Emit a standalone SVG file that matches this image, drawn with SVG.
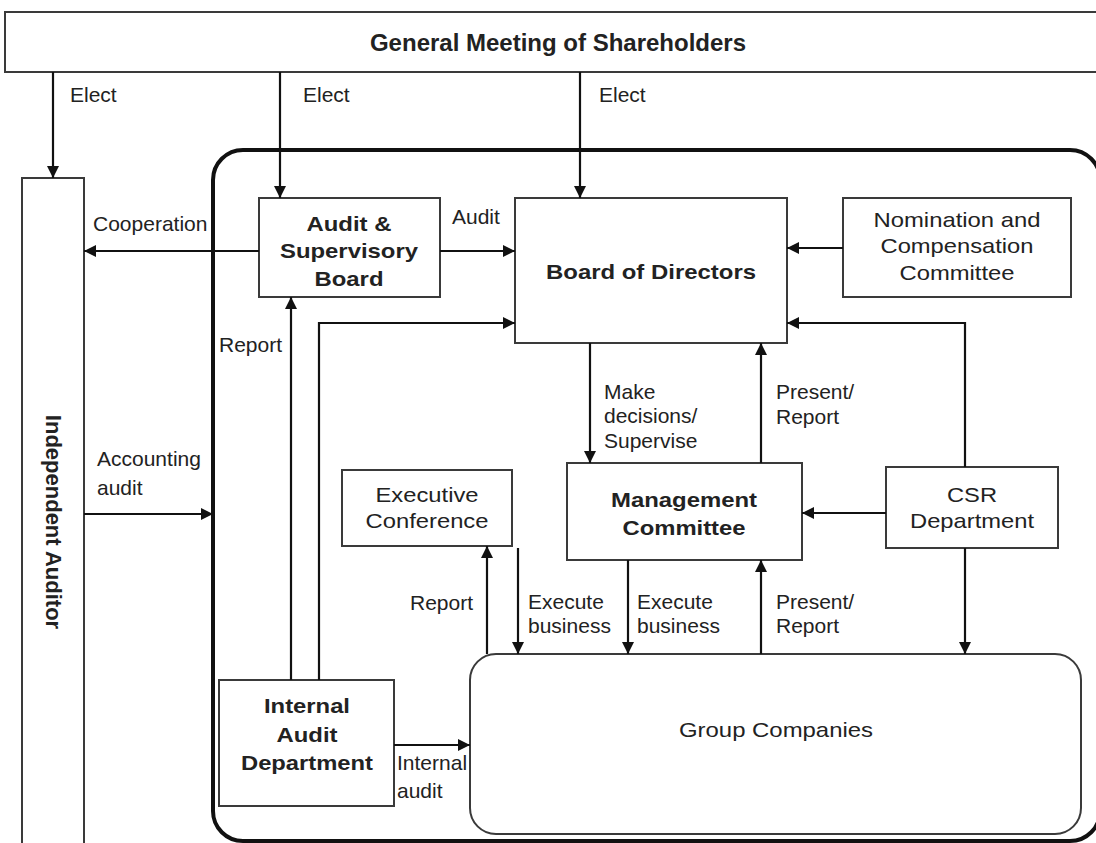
<svg xmlns="http://www.w3.org/2000/svg" width="1096" height="843" viewBox="0 0 1096 843">
<style>
.box{fill:#fff;stroke:#3a3a3a;stroke-width:2}
.lbl{font-family:"Liberation Sans",Arial,sans-serif;font-size:21px;fill:#222}
.nt{font-family:"Liberation Sans",Arial,sans-serif;font-size:21px;fill:#222;text-anchor:middle}
.b{font-weight:bold}
.c{fill:none;stroke:#111;stroke-width:2.2}
</style>
<defs>
<marker id="ah" viewBox="0 0 12 12" refX="12" refY="6" markerWidth="12" markerHeight="12" markerUnits="userSpaceOnUse" orient="auto">
<path d="M0,0 L12,6 L0,12 z" fill="#111"/>
</marker>
</defs>
<rect width="1096" height="843" fill="#fff"/>
<rect x="213" y="150" width="887" height="691" rx="30" ry="30" fill="none" stroke="#111" stroke-width="4"/>

<g id="shareholders"><rect class="box" x="5" y="12" width="1100" height="60"/><text class="nt b" x="558" y="51" style="font-size:24px">General Meeting of Shareholders</text></g>
<g id="independent-auditor"><rect class="box" x="22" y="178" width="62" height="675"/><text class="nt b" transform="translate(46,522) rotate(90)" style="font-size:22px">Independent Auditor</text></g>
<g id="audit-board"><rect class="box" x="259" y="198" width="181" height="99"/><text class="nt b" x="349" y="231" textLength="85" lengthAdjust="spacingAndGlyphs">Audit &amp;</text><text class="nt b" x="349" y="258" textLength="138" lengthAdjust="spacingAndGlyphs">Supervisory</text><text class="nt b" x="349" y="286" textLength="69" lengthAdjust="spacingAndGlyphs">Board</text></g>
<g id="board-directors"><rect class="box" x="515" y="198" width="272" height="145"/><text class="nt b" x="651" y="279" textLength="210" lengthAdjust="spacingAndGlyphs">Board of Directors</text></g>
<g id="nomination"><rect class="box" x="843" y="198" width="228" height="99"/><text class="nt" x="957" y="227" textLength="167" lengthAdjust="spacingAndGlyphs">Nomination and</text><text class="nt" x="957" y="253" textLength="153" lengthAdjust="spacingAndGlyphs">Compensation</text><text class="nt" x="957" y="280" textLength="115" lengthAdjust="spacingAndGlyphs">Committee</text></g>
<g id="management"><rect class="box" x="567" y="463" width="235" height="97"/><text class="nt b" x="684" y="507" textLength="146" lengthAdjust="spacingAndGlyphs">Management</text><text class="nt b" x="684" y="535" textLength="123" lengthAdjust="spacingAndGlyphs">Committee</text></g>
<g id="executive"><rect class="box" x="342" y="470" width="170" height="76"/><text class="nt" x="427" y="502" textLength="103" lengthAdjust="spacingAndGlyphs">Executive</text><text class="nt" x="427" y="528" textLength="123" lengthAdjust="spacingAndGlyphs">Conference</text></g>
<g id="csr"><rect class="box" x="886" y="467" width="172" height="81"/><text class="nt" x="972" y="502" textLength="50" lengthAdjust="spacingAndGlyphs">CSR</text><text class="nt" x="972" y="528" textLength="124" lengthAdjust="spacingAndGlyphs">Department</text></g>
<g id="group-companies"><rect class="box" x="470" y="654" width="611" height="180" rx="26"/><text class="nt" x="776" y="737" textLength="194" lengthAdjust="spacingAndGlyphs">Group Companies</text></g>
<g id="internal-audit"><rect class="box" x="219" y="680" width="175" height="126"/><text class="nt b" x="307" y="713" textLength="86" lengthAdjust="spacingAndGlyphs">Internal</text><text class="nt b" x="307" y="742" textLength="61" lengthAdjust="spacingAndGlyphs">Audit</text><text class="nt b" x="307" y="770" textLength="132" lengthAdjust="spacingAndGlyphs">Department</text></g>

<g id="connectors">
<line class="c" x1="53" y1="72" x2="53" y2="178" marker-end="url(#ah)"/>
<line class="c" x1="280" y1="72" x2="280" y2="198" marker-end="url(#ah)"/>
<line class="c" x1="580" y1="72" x2="580" y2="198" marker-end="url(#ah)"/>
<line class="c" x1="259" y1="251" x2="84" y2="251" marker-end="url(#ah)"/>
<line class="c" x1="440" y1="251" x2="515" y2="251" marker-end="url(#ah)"/>
<line class="c" x1="843" y1="248" x2="787" y2="248" marker-end="url(#ah)"/>
<line class="c" x1="291" y1="680" x2="291" y2="297" marker-end="url(#ah)"/>
<polyline class="c" points="319,680 319,323 515,323" marker-end="url(#ah)"/>
<polyline class="c" points="965,467 965,323 787,323" marker-end="url(#ah)"/>
<line class="c" x1="590" y1="343" x2="590" y2="463" marker-end="url(#ah)"/>
<line class="c" x1="761" y1="463" x2="761" y2="343" marker-end="url(#ah)"/>
<line class="c" x1="886" y1="513" x2="802" y2="513" marker-end="url(#ah)"/>
<line class="c" x1="84" y1="514" x2="213" y2="514" marker-end="url(#ah)"/>
<line class="c" x1="487" y1="654" x2="487" y2="546" marker-end="url(#ah)"/>
<line class="c" x1="518" y1="548" x2="518" y2="654" marker-end="url(#ah)"/>
<line class="c" x1="628" y1="560" x2="628" y2="654" marker-end="url(#ah)"/>
<line class="c" x1="761" y1="654" x2="761" y2="560" marker-end="url(#ah)"/>
<line class="c" x1="965" y1="548" x2="965" y2="654" marker-end="url(#ah)"/>
<line class="c" x1="394" y1="745" x2="470" y2="745" marker-end="url(#ah)"/>
</g>

<g id="labels">
<text class="lbl" x="70" y="102">Elect</text>
<text class="lbl" x="303" y="102">Elect</text>
<text class="lbl" x="599" y="102">Elect</text>
<text class="lbl" x="93" y="231">Cooperation</text>
<text class="lbl" x="452" y="224">Audit</text>
<text class="lbl" x="219" y="352">Report</text>
<text class="lbl" x="97" y="466">Accounting</text>
<text class="lbl" x="97" y="495">audit</text>
<text class="lbl" x="604" y="399">Make</text>
<text class="lbl" x="604" y="423">decisions/</text>
<text class="lbl" x="604" y="448">Supervise</text>
<text class="lbl" x="776" y="399">Present/</text>
<text class="lbl" x="776" y="424">Report</text>
<text class="lbl" x="410" y="610">Report</text>
<text class="lbl" x="528" y="609">Execute</text>
<text class="lbl" x="528" y="633">business</text>
<text class="lbl" x="637" y="609">Execute</text>
<text class="lbl" x="637" y="633">business</text>
<text class="lbl" x="776" y="609">Present/</text>
<text class="lbl" x="776" y="633">Report</text>
<text class="lbl" x="397" y="770">Internal</text>
<text class="lbl" x="397" y="798">audit</text>
</g>
</svg>
